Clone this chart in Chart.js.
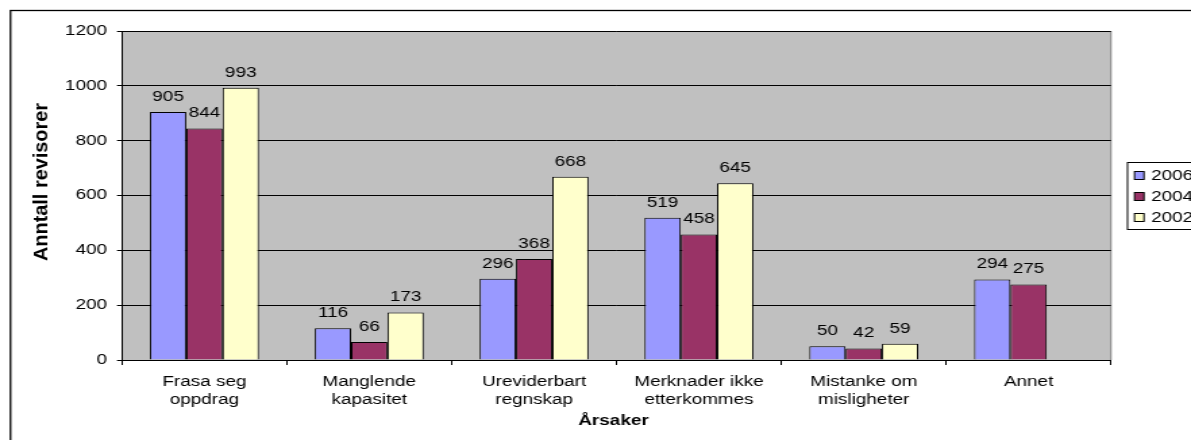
<!DOCTYPE html>
<html>
<head>
<meta charset="utf-8">
<script src="https://cdn.jsdelivr.net/npm/chart.js@4.4.1/dist/chart.umd.min.js"></script>
<style>
  html, body { margin: 0; padding: 0; background: #ffffff; }
  #wrap { position: relative; width: 1191px; height: 440px; overflow: hidden; }
  #chart { position: absolute; left: 0; top: 0; transform-origin: 0 0; }
</style>
</head>
<body>
<div id="wrap"><canvas id="chart"></canvas></div>
<script>
// Categories (two-line labels) and the three survey years
const categories = [
  ['Frasa seg', 'oppdrag'],
  ['Manglende', 'kapasitet'],
  ['Ureviderbart', 'regnskap'],
  ['Merknader ikke', 'etterkommes'],
  ['Mistanke om', 'misligheter'],
  ['Annet']
];
const values2006 = [905, 116, 296, 519, 50, 294];
const values2004 = [844, 66, 368, 458, 42, 275];
const values2002 = [993, 173, 668, 645, 59, null];
const yTicks = [0, 200, 400, 600, 800, 1000, 1200];

const FONT = '"Liberation Sans", Arial, sans-serif';

// The figure is drawn on a narrower canvas and widened horizontally,
// giving the broad lettering of the printed figure.
const PAGE_W = 1191, PAGE_H = 440;
const CANVAS_W = 882;
const K = PAGE_W / CANVAS_W;
const px = (x) => x / K; // page x -> canvas x

const canvas = document.getElementById('chart');
canvas.width = CANVAS_W;
canvas.height = PAGE_H;
canvas.style.width = CANVAS_W + 'px';
canvas.style.height = PAGE_H + 'px';
canvas.style.transform = 'scaleX(' + K + ')';

// Outer frame, grey plot area background and its grey right border
const framePlugin = {
  id: 'frame',
  beforeDraw(chart) {
    const ctx = chart.ctx;
    const a = chart.chartArea;
    ctx.save();
    ctx.fillStyle = '#ffffff';
    ctx.fillRect(0, 0, chart.width, chart.height);
    ctx.strokeStyle = '#000000';
    ctx.lineWidth = 1.3;
    ctx.strokeRect(px(10.5), 10.5, 2000, 2000);
    ctx.fillStyle = '#c0c0c0';
    ctx.fillRect(a.left, a.top, a.right - a.left, a.bottom - a.top);
    ctx.strokeStyle = '#808080';
    ctx.lineWidth = 1;
    ctx.beginPath();
    ctx.moveTo(a.right, a.top);
    ctx.lineTo(a.right, a.bottom);
    ctx.stroke();
    ctx.restore();
  }
};

// Value labels above each bar, axis titles and the boxed legend
const decorPlugin = {
  id: 'decor',
  afterDatasetsDraw(chart) {
    const ctx = chart.ctx;
    ctx.save();
    ctx.font = '14px ' + FONT;
    ctx.fillStyle = '#000000';
    ctx.textAlign = 'center';
    ctx.textBaseline = 'middle';
    chart.data.datasets.forEach((ds, i) => {
      const meta = chart.getDatasetMeta(i);
      meta.data.forEach((bar, j) => {
        const v = ds.data[j];
        if (v === null || v === undefined) return;
        ctx.fillText(String(v), bar.x, bar.y - 15);
      });
    });
    ctx.restore();
  },
  afterDraw(chart) {
    const ctx = chart.ctx;
    const a = chart.chartArea;
    ctx.save();
    ctx.fillStyle = '#000000';
    ctx.font = 'bold 14px ' + FONT;
    ctx.textAlign = 'center';
    ctx.textBaseline = 'middle';
    ctx.fillText('Årsaker', (a.left + a.right) / 2 - px(3), 421);
    ctx.translate(px(42), 182);
    ctx.rotate(-Math.PI / 2);
    ctx.scale(1.42, 1);
    ctx.fillText('Anntall revisorer', 0, 0);
    ctx.restore();

    // legend
    ctx.save();
    ctx.strokeStyle = '#000000';
    ctx.lineWidth = 1;
    ctx.fillStyle = '#ffffff';
    ctx.fillRect(px(1127.5), 162.5, 200, 67);
    ctx.strokeRect(px(1127.5), 162.5, 200, 67);
    ctx.font = '14px ' + FONT;
    ctx.textAlign = 'left';
    ctx.textBaseline = 'middle';
    chart.data.datasets.forEach((ds, i) => {
      const cy = 176 + i * 21;
      ctx.fillStyle = ds.backgroundColor;
      ctx.fillRect(px(1134.5), cy - 4.5, px(9.5), 8);
      ctx.strokeStyle = '#000000';
      ctx.strokeRect(px(1134.5), cy - 4.5, px(9.5), 8);
      ctx.fillStyle = '#000000';
      ctx.fillText(ds.label, px(1151), cy + 0.5);
    });
    ctx.restore();
  }
};

const barCommon = {
  borderColor: '#000000',
  borderWidth: 1,
  borderSkipped: 'bottom',
  categoryPercentage: 0.661,
  barPercentage: 1.0
};

new Chart(canvas, {
  type: 'bar',
  data: {
    labels: categories,
    datasets: [
      Object.assign({ label: '2006', data: values2006, backgroundColor: '#9999ff' }, barCommon),
      Object.assign({ label: '2004', data: values2004, backgroundColor: '#993366' }, barCommon),
      Object.assign({ label: '2002', data: values2002, backgroundColor: '#ffffcc' }, barCommon)
    ]
  },
  options: {
    responsive: false,
    animation: false,
    devicePixelRatio: 1,
    layout: { padding: { left: 0, right: CANVAS_W - px(1111), top: 31, bottom: 0 } },
    plugins: {
      legend: { display: false },
      tooltip: { enabled: false },
      title: { display: false }
    },
    scales: {
      x: {
        offset: true,
        grid: {
          display: true,
          offset: true,
          drawOnChartArea: false,
          drawTicks: true,
          tickLength: 5,
          color: '#000000'
        },
        border: { display: true, color: '#000000', width: 1 },
        ticks: {
          color: '#000000',
          font: { family: FONT, size: 14, lineHeight: 1.28 },
          padding: 8,
          maxRotation: 0,
          autoSkip: false
        },
        afterFit(scale) { scale.height = 80; }
      },
      y: {
        min: 0,
        max: 1200,
        afterBuildTicks(scale) { scale.ticks = yTicks.map(v => ({ value: v })); },
        grid: {
          color: '#000000',
          lineWidth: 1,
          drawTicks: true,
          tickLength: px(5)
        },
        border: { display: true, color: '#000000', width: 1 },
        ticks: {
          color: '#000000',
          font: { family: FONT, size: 14 },
          padding: px(10),
          callback: (v) => String(v)
        },
        afterFit(scale) { scale.width = px(122); }
      }
    }
  },
  plugins: [framePlugin, decorPlugin]
});
</script>
</body>
</html>
